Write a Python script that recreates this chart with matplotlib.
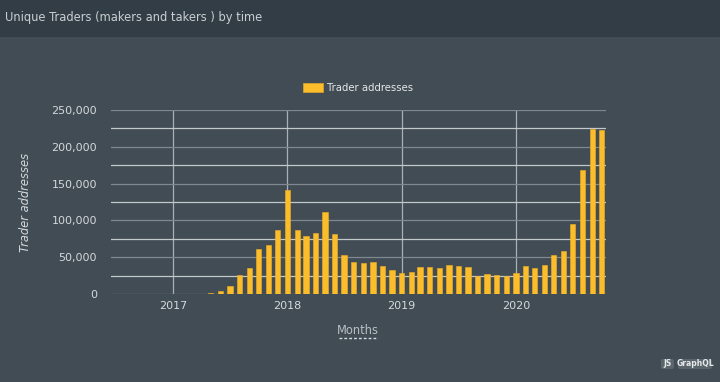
import matplotlib
matplotlib.use("Agg")
import matplotlib.pyplot as plt
import matplotlib.dates as mdates
from matplotlib.patches import FancyBboxPatch, Rectangle
from matplotlib.lines import Line2D
import numpy as np
import datetime as dt

# ---- data ----
months = [dt.date(2016 + (6 + i) // 12, (6 + i) % 12 + 1, 1) for i in range(52)]  # Jul 2016 .. Oct 2020
traders = [
    300, 350, 400, 380, 420, 450, 500, 480, 520, 600, 900,           # Jul 2016 - May 2017
    3500, 11500, 26400, 35000, 60500, 66800, 87300,                   # Jun - Dec 2017
    141400, 87300, 79100, 83200, 111400, 81800, 53600, 44100,         # Jan - Aug 2018
    42300, 43200, 38200, 33200,                                       # Sep - Dec 2018
    28200, 30000, 36400, 36400, 35000, 39500, 38200, 36400,           # Jan - Aug 2019
    24500, 27700, 26400, 24500,                                       # Sep - Dec 2019
    28200, 38200, 35000, 39500, 52700, 58600, 94500, 169100,          # Jan - Aug 2020
    224100, 222700,                                                   # Sep - Oct 2020
]
yticks = [0, 50000, 100000, 150000, 200000, 250000]
title = "Unique Traders (makers and takers ) by time"
series_name = "Trader addresses"

# ---- style ----
BODY = "#414c54"
HEAD = "#333d46"
BAR = "#fcbd2d"
TXT = "#d4d9dc"

fig = plt.figure(figsize=(7.2, 3.82), dpi=100, facecolor=BODY)
fig.patches.append(Rectangle((0, 1 - 37 / 382), 1, 37 / 382, transform=fig.transFigure,
                             facecolor=HEAD, edgecolor="none", zorder=0))
fig.text(5 / 720, 1 - 18 / 382, title, color="#c9cfd3", fontsize=8.3, va="center", ha="left")

ax = fig.add_axes([111 / 720, 1 - 294 / 382, 495 / 720, 184 / 382])
ax.set_facecolor(BODY)
ax.bar(months, traders, width=17, color=BAR, edgecolor="#f2b020", lw=0.4, zorder=3,
       label=series_name)

ax.set_xlim(mdates.date2num(dt.date(2016, 6, 16)), mdates.date2num(dt.date(2020, 10, 15)))
ax.set_ylim(0, 250000)
ax.set_yticks(yticks)
ax.set_yticklabels([f"{v:,}" for v in yticks])
ax.set_yticks(np.arange(25000, 250000, 50000), minor=True)
ax.xaxis.set_major_locator(mdates.YearLocator())
ax.xaxis.set_major_formatter(mdates.DateFormatter("%Y"))

for s in ax.spines.values():
    s.set_visible(False)
ax.grid(True, axis="y", which="major", color="#808990", lw=0.9, zorder=1)
ax.grid(True, axis="y", which="minor", color="#c2c8cb", lw=0.9, zorder=1)
ax.grid(True, axis="x", which="major", color="#aab1b5", lw=0.9, zorder=1)
ax.tick_params(axis="both", which="both", length=0, colors=TXT, labelsize=8)
ax.tick_params(axis="y", pad=10)
ax.tick_params(axis="x", pad=5)

ax.set_ylabel("Trader addresses", color=TXT, fontsize=8.3, style="italic", labelpad=14)
fig.text(358 / 720, 1 - 330 / 382, "Months", color="#b8bfc4", fontsize=8.3, ha="center", va="center")
fig.lines.append(Line2D([339 / 720, 378 / 720], [1 - 338 / 382] * 2, transform=fig.transFigure,
                        color="#d8dde0", lw=1, linestyle=(0, (2, 1.5))))

leg = fig.legend(loc="center", bbox_to_anchor=(358 / 720, 1 - 88 / 382), frameon=False,
                 fontsize=7.3, labelcolor="#e4e8ea", handlelength=2.0, handleheight=0.9,
                 handletextpad=0.4)

# badges
for x0, w, lab in [(661, 13, "JS"), (678, 34, "GraphQL")]:
    fig.patches.append(FancyBboxPatch((x0 / 720, 1 - 369 / 382), w / 720, 10 / 382,
                                      boxstyle="round,pad=0,rounding_size=0.004",
                                      transform=fig.transFigure, facecolor="#5b656c",
                                      edgecolor="none"))
    fig.text((x0 + w / 2) / 720, 1 - 364 / 382, lab, color="#e6e9eb", fontsize=5.5,
             ha="center", va="center", fontweight="bold")

fig.savefig("out.png", dpi=100, facecolor=BODY)
